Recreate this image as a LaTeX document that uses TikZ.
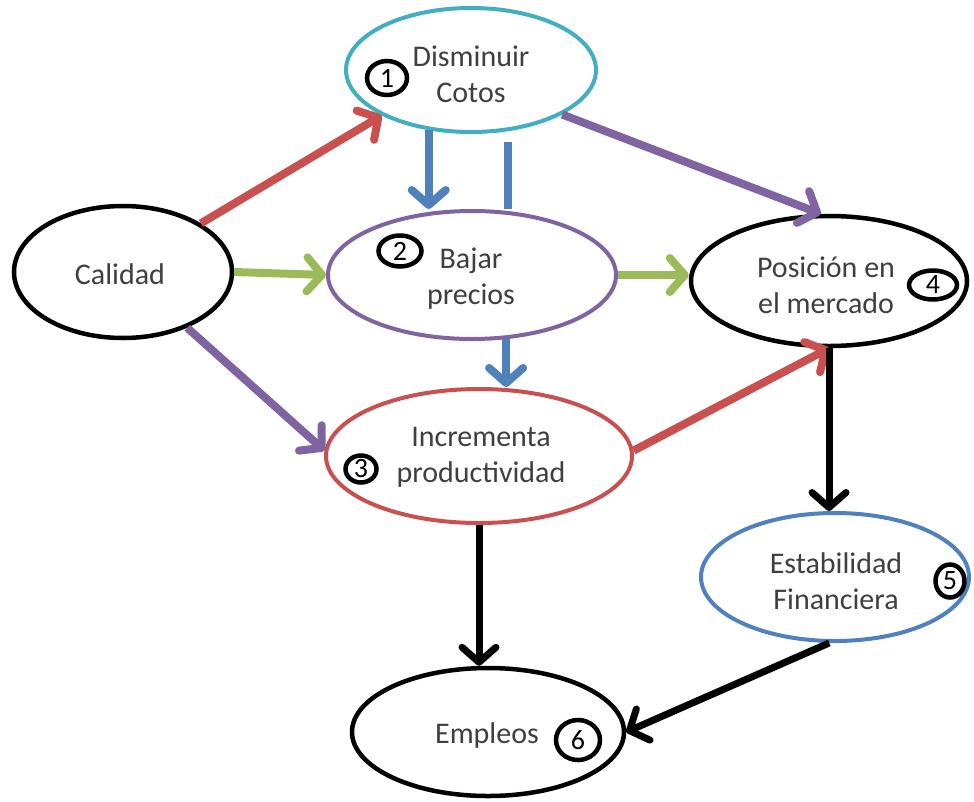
\documentclass[tikz,border=0pt]{standalone}
\usepackage{fontspec}
\setmainfont{Carlito}
\usetikzlibrary{shapes.geometric,arrows.meta}
\definecolor{cred}{HTML}{C9504E}
\definecolor{cgreen}{HTML}{9BBB59}
\definecolor{cpurple}{HTML}{8064A2}
\definecolor{cblue}{HTML}{4F81BD}
\definecolor{cteal}{HTML}{42AEC2}
\definecolor{textgray}{HTML}{3F3F3F}
\begin{document}
\begin{tikzpicture}[x=1pt,y=-1pt,
  el/.style={ellipse,draw,line width=4pt,inner sep=0pt},
  num/.style={ellipse,draw=black,line width=4.5pt,inner sep=0pt,text=black,font=\fontsize{28}{28}\selectfont},
  txt/.style={align=center,text=textgray,inner sep=0pt,font=\fontsize{30}{36}\selectfont},
  arr/.style={line width=8pt,-{Straight Barb[length=15pt,width=34pt,round]}},
  blk/.style={arr,draw=black,line width=7pt}
]
\useasboundingbox (0,0) rectangle (974,801);
% main ellipses
\node[el,draw=black,line width=4.5pt,minimum width=218pt,minimum height=132pt] (cal) at (123,272) {};
\node[el,draw=cteal,minimum width=250pt,minimum height=124pt] (n1) at (471,70) {};
\node[el,draw=cpurple,minimum width=288pt,minimum height=128pt] (n2) at (472,275) {};
\node[el,draw=cred,minimum width=306pt,minimum height=134pt] (n3) at (479,456) {};
\node[el,draw=black,line width=4.5pt,minimum width=276pt,minimum height=130pt] (n4) at (829,281) {};
\node[el,draw=cblue,minimum width=268pt,minimum height=128pt] (n5) at (835,577) {};
\node[el,draw=black,line width=4.5pt,minimum width=272pt,minimum height=128pt] (n6) at (488,732) {};
% texts
\node[txt] (tcal) at (120,274) {Calidad};
\node[txt] (t1) at (471,74) {Disminuir\\Cotos};
\node[txt] (t2) at (471,279) {Bajar\\precios};
\node[txt] (t3) at (481,457) {Incrementa\\productividad};
\node[txt] (t4) at (826,285) {Posición en\\el mercado};
\node[txt] (t5) at (836,581) {Estabilidad\\Financiera};
\node[txt] (t6) at (487,735) {Empleos};
% number circles
\node[num,minimum width=40pt,minimum height=34pt] (c1) at (387,78) {1};
\node[num,minimum width=43pt,minimum height=31pt] (c2) at (400,251) {2};
\node[num,minimum width=31pt,minimum height=27pt] (c3) at (361,469) {3};
\node[num,minimum width=48pt,minimum height=29pt] (c4) at (933,285) {4};
\node[num,minimum width=29pt,minimum height=33pt] (c5) at (950,581) {5};
\node[num,minimum width=44pt,minimum height=40pt] (c6) at (578,740) {6};
% connectors
\draw[arr,draw=cred] (cal.32) -- (n1.207);
\draw[arr,draw=cgreen] (cal.east) -- (n2.west);
\draw[arr,draw=cpurple] (cal.-41) -- (n3.178);
\draw[arr,draw=cblue] (n1.235.5) -- (n1.235.5 |- n2.north);
\coordinate (b1) at (508,142);
\draw[line width=8pt,draw=cblue] (b1) -- (b1 |- n2.north);
\draw[arr,draw=cpurple] (n1.-26) -- (n4.97);
\draw[arr,draw=cgreen] (n2.east) -- (n2.east -| n4.west);
\draw[arr,draw=cblue] (n2.-62.5) -- (n2.-62.5 |- n3.north);
\draw[arr,draw=cred] (n3.2) -- (n4.south);
\draw[blk] (n4.south) -- (n4.south |- n5.north);
\draw[blk] (n3.south) -- (n3.south |- n6.north);
\draw[blk] (n5.265) -- (n6.east);
\end{tikzpicture}
\end{document}
